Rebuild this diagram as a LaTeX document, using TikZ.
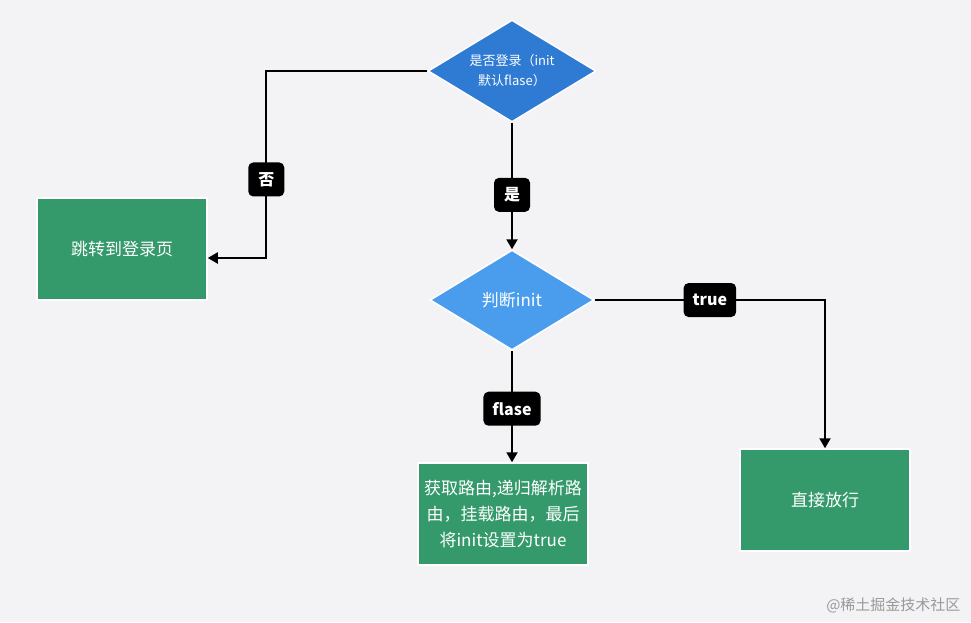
\documentclass[tikz,border=0pt]{standalone}
\usepackage{fontspec}
\setmainfont{Noto Sans CJK SC}
\usetikzlibrary{shapes.geometric,arrows.meta}
\definecolor{bgcolor}{HTML}{F3F3F5}
\definecolor{bluedark}{HTML}{2F7AD2}
\definecolor{bluelight}{HTML}{4A9DED}
\definecolor{boxgreen}{HTML}{34996B}
\tikzstyle{decision}=[diamond,draw=white,line width=1.5pt,inner sep=0pt,shape aspect=1.65,text=white,align=center]
\tikzstyle{block}=[rectangle,draw=white,line width=1.5pt,fill=boxgreen,text=white,align=center,inner sep=0pt]
\tikzstyle{edge}=[draw,line width=2pt,-{Triangle[width=11pt,length=10pt]}]
\tikzstyle{tag}=[fill=black,rounded corners=5pt,text=white,inner xsep=9pt,minimum height=34,minimum width=36,font=\fontsize{16}{16}\selectfont\bfseries]

\begin{document}
\begin{tikzpicture}[x=1pt,y=-1pt]
	\fill[bgcolor] (0,0) rectangle (971,622);
	\useasboundingbox (0,0) rectangle (971,622);

	% First the two decisions
	\node[decision,fill=bluedark,minimum width=168,minimum height=102,font=\fontsize{13}{20}\selectfont] (islogin) at (512,71) {是否登录（init\\默认flase）};
	\node[decision,fill=bluelight,minimum width=164,minimum height=100,font=\fontsize{17}{20}\selectfont] (checkinit) at (512,300) {判断init};

	% Then the three outcomes
	\foreach \pos/\name/\txt in {{(122,249)/tologin/{跳转到登录页}},
								{(503,514)/loadroutes/{获取路由,递归解析路\\由，挂载路由，最后\\将init设置为true}},
								{(825,500)/pass/{直接放行}}}
	\node[block,minimum width=170,minimum height=102,font=\fontsize{17}{26}\selectfont] (\name) at \pos {\txt};

	% Connect them and put the answers on the edges
	\path[edge] (islogin.west) -- ++(-161,0) |- node[tag,pos=0.29] {否} ([yshift=-9]tologin.east);
	\path[edge] (islogin.south) -- node[tag,pos=0.57] {是} (checkinit.north);
	\path[edge] (checkinit.east) -| node[tag,pos=0.25] {true} (pass.north);
	\path[edge] (checkinit.south) -- node[tag,pos=0.52] {flase} (checkinit.south |- loadroutes.north);

	\node[text=black!40,font=\fontsize{15}{15}\selectfont,anchor=east] (mark) at (964,605) {@稀土掘金技术社区};
\end{tikzpicture}
\end{document}
